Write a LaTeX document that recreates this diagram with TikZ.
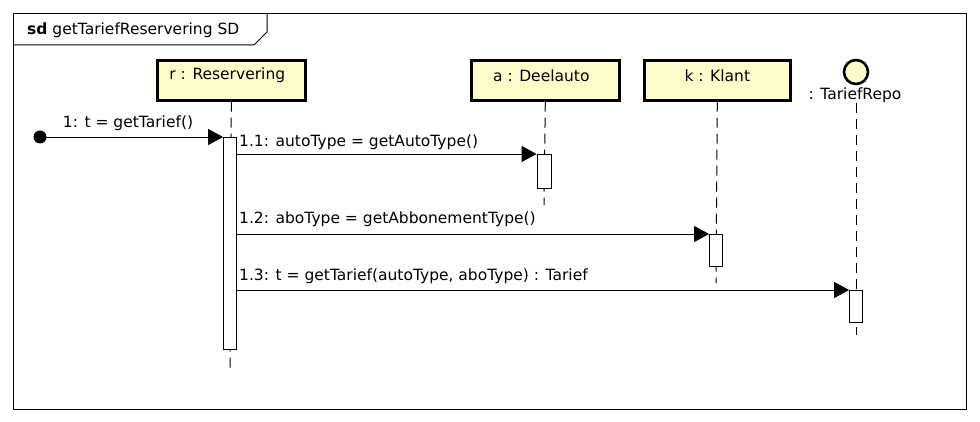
\documentclass[tikz,border=0pt]{standalone}
\usepackage{fontspec}
\setmainfont{DejaVu Sans}
\usetikzlibrary{arrows.meta}
\begin{document}
\begin{tikzpicture}[x=1pt,y=-1pt,
  every node/.style={font=\fontsize{15.5}{18}\selectfont, inner sep=0pt},
  obj/.style={draw, line width=2.6pt, fill=yellow!20!white, minimum height=40pt, anchor=north west},
  objtext/.style={yshift=5pt},
  life/.style={line width=1pt, dash pattern=on 10pt off 6pt},
  act/.style={draw, line width=0.8pt, fill=white},
  msg/.style={line width=0.8pt, -{Triangle[length=15pt,width=16pt]}, shorten >=0pt},
  lbl/.style={anchor=south west}]
\useasboundingbox (0,0) rectangle (980,422);
\fill[white] (0,0) rectangle (980,422);

% frame and its tab
\draw[line width=1pt] (13,14) rectangle (966,409);
\draw[line width=1pt] (13,45) -- (254,45) -- (267,32) -- (267,14);
\node[anchor=west] (title) at (27,30) {\textbf{sd} getTariefReservering SD};

% participants
\node[obj, minimum width=148pt] (r) at (156,59) {};
\node[objtext, xshift=-4pt] (rname) at (r.center) {r : Reservering};
\node[obj, minimum width=148pt] (a) at (470,59) {};
\node[objtext, xshift=-4pt] (aname) at (a.center) {a : Deelauto};
\node[obj, minimum width=146pt] (k) at (643,59) {};
\node[objtext] (kname) at (k.center) {k : Klant};
\node[draw, circle, line width=2.6pt, fill=yellow!20!white, minimum size=24pt] (repo) at (856,72) {};
\node (repolbl) at (855,95) {: TariefRepo};

% lifelines
\coordinate (rEnd) at (230,370);
\coordinate (aEnd) at (544,205);
\coordinate (kEnd) at (716,283);
\coordinate (repoEnd) at (856,335);
\draw[life] (r.south) -- (rEnd);
\draw[life] (a.south) -- (aEnd);
\draw[life] (k.south) -- (kEnd);
\draw[life] (856,103) -- (repoEnd);

% activation bars
\node[act, minimum width=13pt, minimum height=212pt, anchor=north] (ractv) at (230,137) {};
\node[act, minimum width=14pt, minimum height=34pt, anchor=north] (aactv) at (544,154) {};
\node[act, minimum width=13pt, minimum height=32pt, anchor=north] (kactv) at (716,234) {};
\node[act, minimum width=13pt, minimum height=32pt, anchor=north] (repoactv) at (856,290) {};

% found message
\fill (40,137) circle (6.5pt);
\coordinate (found) at (40,137);
\draw[msg] (found) -- (ractv.north west);
\node[anchor=south] (m1) at (128,131) {1: t = getTarief()};

% messages
\draw[msg] (ractv.east |- aactv.north) -- (aactv.north west);
\node[lbl] (m11) at (239,150) {1.1: autoType = getAutoType()};
\draw[msg] (ractv.east |- kactv.north) -- (kactv.north west);
\node[lbl] (m12) at (239,227) {1.2: aboType = getAbbonementType()};
\draw[msg] (ractv.east |- repoactv.north) -- (repoactv.north west);
\node[lbl] (m13) at (239,284) {1.3: t = getTarief(autoType, aboType) : Tarief};
\end{tikzpicture}
\end{document}
